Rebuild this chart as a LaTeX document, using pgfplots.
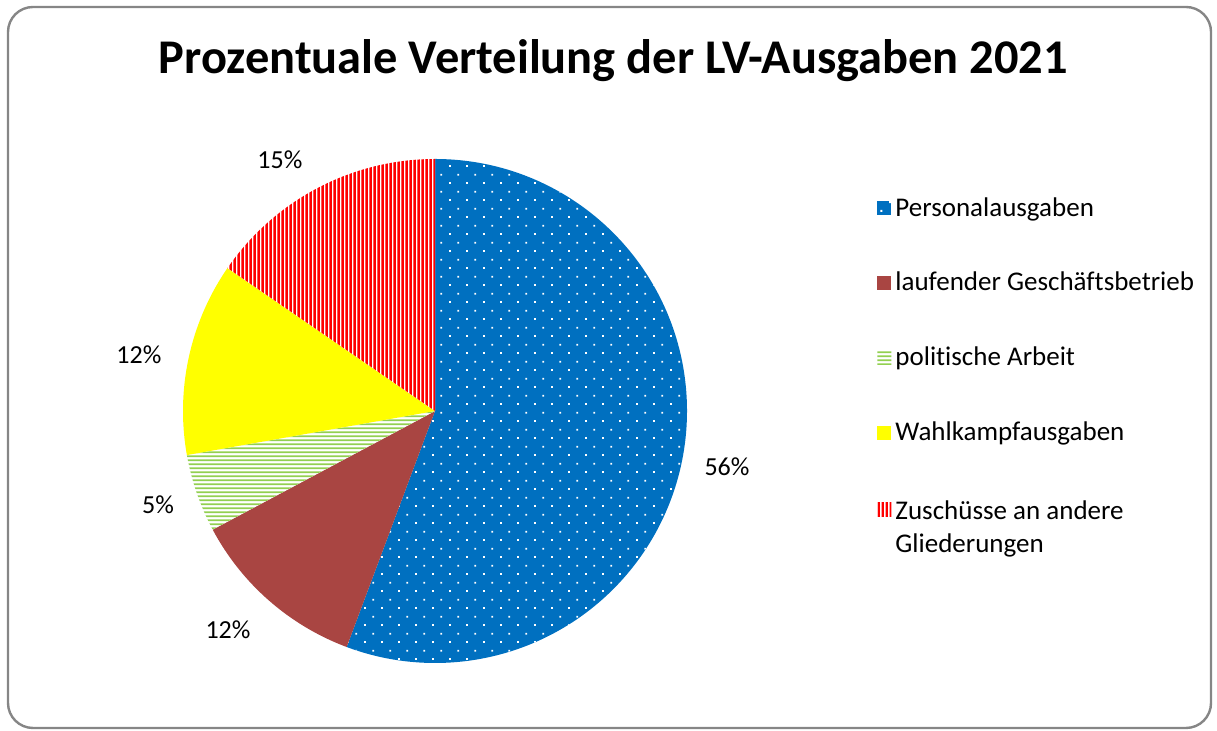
\documentclass[border=0pt]{standalone}
\usepackage{pgfplots}
\pgfplotsset{compat=1.18}
\usepackage{pgfplotstable}
\usepackage{fontspec}
\setmainfont{Carlito}[Ligatures=NoCommon, Contextuals=NoAlternate]
\usetikzlibrary{patterns.meta}

\definecolor{cBlue}{RGB}{0,112,192}
\definecolor{cBrown}{RGB}{169,69,66}
\definecolor{cGreen}{RGB}{146,208,80}
\definecolor{cYellow}{RGB}{255,255,0}
\definecolor{cRed}{RGB}{255,0,0}
\definecolor{cBorder}{RGB}{134,134,134}

% white dots on blue
\tikzdeclarepattern{
  name=wdots, type=uncolored,
  bounding box={(0pt,0pt) and (8.6pt,8.6pt)},
  tile size={(8.6pt,8.6pt)},
  code={
    \pgfpathrectangle{\pgfpoint{1.6pt}{1.6pt}}{\pgfpoint{1pt}{1pt}}
    \pgfpathrectangle{\pgfpoint{5.9pt}{5.9pt}}{\pgfpoint{1pt}{1pt}}
    \pgfusepath{fill}
  }
}
% long tiles, so that no seams show across the stripes
\tikzdeclarepattern{
  name=hstripes, type=uncolored,
  bounding box={(0pt,0pt) and (400pt,2.1pt)},
  tile size={(400pt,2.1pt)},
  code={
    \pgfpathrectangle{\pgfpoint{0pt}{0.55pt}}{\pgfpoint{400pt}{1pt}}
    \pgfusepath{fill}
  }
}
\tikzdeclarepattern{
  name=vstripes, type=uncolored,
  bounding box={(0pt,0pt) and (2.05pt,400pt)},
  tile size={(2.05pt,400pt)},
  code={
    \pgfpathrectangle{\pgfpoint{0.3pt}{0pt}}{\pgfpoint{1.4pt}{400pt}}
    \pgfusepath{fill}
  }
}

\tikzset{
  slice0/.style={fill=cBlue, draw=none,
    postaction={pattern=wdots, pattern color=white, draw=none}},
  slice1/.style={fill=cBrown, draw=none},
  slice2/.style={fill=white, draw=none,
    postaction={pattern=hstripes, pattern color=cGreen, draw=none}},
  slice3/.style={fill=cYellow, draw=none},
  slice4/.style={fill=white, draw=none,
    postaction={pattern=vstripes, pattern color=cRed, draw=none}},
}

\newcommand\labelfont{\fontsize{13}{16}\selectfont}

% share of expenses in percent; where Excel put each label (angle, radius)
\pgfplotstableread{
share labang labrad
55.7  -10.86  1.180
11.5  -133.38 1.196
5.0   -161.26 1.161
12.4  169.29  1.196
15.4  121.7   1.171
}\piedata

\begin{document}
\begin{tikzpicture}
\begin{axis}[
  x=126pt, y=126pt, scale only axis,
  xmin=-1.72619, xmax=3.10317, ymin=-1.26984, ymax=1.63095,
  hide axis, clip=false,
  legend image code/.code={\path[#1, draw=none] (0pt,-3.5pt) rectangle (7pt,3.5pt);},
  legend cell align=left,
  legend style={at={(axis cs:1.754,0.865)}, anchor=north west,
    draw=none, fill=none, inner sep=0pt, row sep=22.5pt,
    font=\fontsize{13.5}{16.5}\selectfont},
]
\path (rel axis cs:0,0) rectangle (rel axis cs:1,1);
\draw[cBorder, line width=1.2pt, rounded corners=12.5pt]
  (axis cs:-1.6944,-1.2579) rectangle (axis cs:3.0794,1.6032);
\node[anchor=base, font=\fontsize{24.2}{29}\selectfont\bfseries]
  at (axis cs:0.708,1.341) {Prozentuale Verteilung der LV-Ausgaben 2021};

\pgfplotstablegetrowsof{\piedata}
\pgfmathtruncatemacro\lastrow{\pgfplotsretval-1}
\def\cumshare{0}
\pgfplotsforeachungrouped \i in {0,...,\lastrow}{%
  \pgfplotstablegetelem{\i}{share}\of\piedata
  \let\curshare\pgfplotsretval
  \pgfplotstablegetelem{\i}{labang}\of\piedata
  \let\labang\pgfplotsretval
  \pgfplotstablegetelem{\i}{labrad}\of\piedata
  \let\labrad\pgfplotsretval
  \pgfmathsetmacro\angS{90-3.6*\cumshare}
  \pgfmathsetmacro\angE{90-3.6*(\cumshare+\curshare)}
  \pgfmathsetmacro\ptX{cos(\angS)}
  \pgfmathsetmacro\ptY{sin(\angS)}
  \pgfmathsetmacro\labX{\labrad*cos(\labang)}
  \pgfmathsetmacro\labY{\labrad*sin(\labang)}
  \pgfmathtruncatemacro\labV{round(\curshare)}
  \edef\temp{%
    \noexpand\fill[slice\i] (axis cs:0,0) -- (axis cs:\ptX,\ptY)
      arc[start angle=\angS, end angle=\angE, radius=126pt] -- cycle;
    \noexpand\node[font=\noexpand\labelfont] at (axis cs:\labX,\labY) {\labV\noexpand\%};
  }\temp
  \pgfmathsetmacro\cumshare{\cumshare+\curshare}
}

\addlegendimage{slice0}
\addlegendimage{slice1}
\addlegendimage{slice2}
\addlegendimage{slice3}
\addlegendimage{slice4}
\legend{Personalausgaben, laufender Geschäftsbetrieb, politische Arbeit,
  Wahlkampfausgaben,
  {\begin{tabular}[t]{@{}l@{}}Zuschüsse an andere\\Gliederungen\end{tabular}}}
\end{axis}
\end{tikzpicture}
\end{document}
